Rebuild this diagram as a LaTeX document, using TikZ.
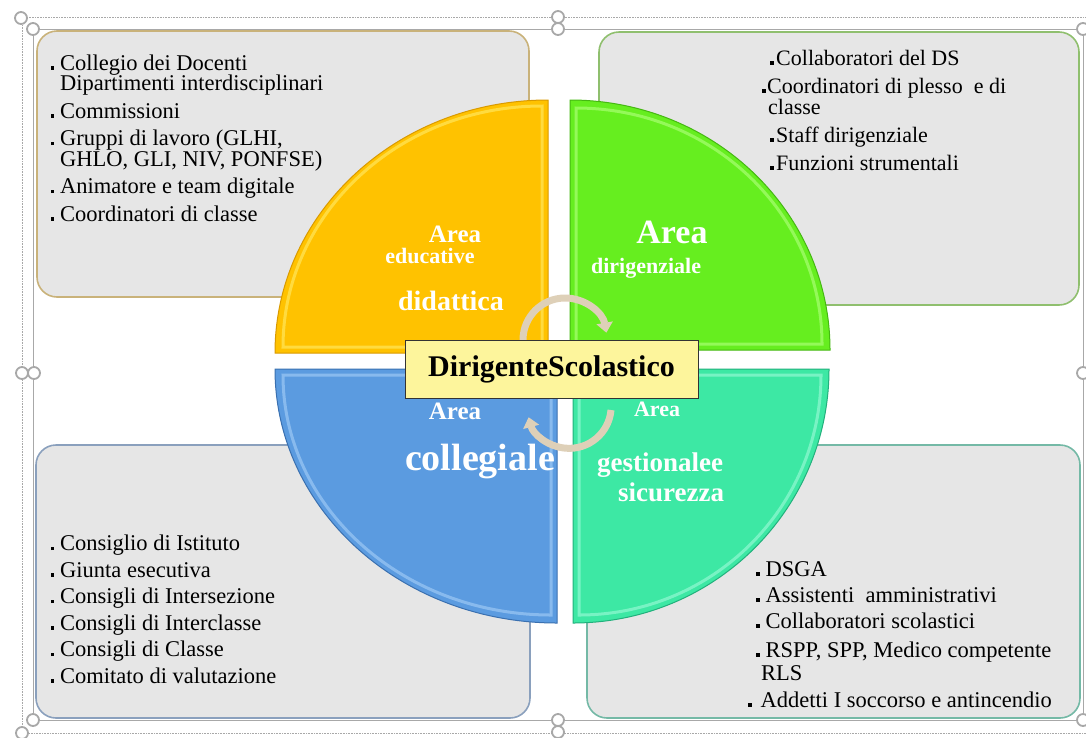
\documentclass[tikz,border=0pt]{standalone}
\usepackage{fontspec}
\setmainfont{Liberation Serif}
\usepackage{xcolor}
\usetikzlibrary{arrows.meta}

\definecolor{boxgray}{HTML}{E6E6E6}
\definecolor{edgegold}{HTML}{C9B27A}
\definecolor{edgegreen}{HTML}{8FBF6E}
\definecolor{edgeblue}{HTML}{8AA0BD}
\definecolor{edgeteal}{HTML}{74B9A6}
\definecolor{areayellow}{HTML}{FFC200}
\definecolor{rimyellow}{HTML}{D99A00}
\definecolor{lightyellow}{HTML}{FFE65A}
\definecolor{areagreen}{HTML}{66EE1F}
\definecolor{rimgreen}{HTML}{45B812}
\definecolor{lightgreen}{HTML}{A8FF72}
\definecolor{areablue}{HTML}{5B9BE0}
\definecolor{rimblue}{HTML}{3A70B0}
\definecolor{lightblue}{HTML}{9CC8F4}
\definecolor{areateal}{HTML}{3DE8A4}
\definecolor{rimteal}{HTML}{22B07C}
\definecolor{lightteal}{HTML}{92F8D2}
\definecolor{dsyellow}{HTML}{FDF59C}
\definecolor{arrowtan}{HTML}{DED0B8}
\definecolor{framegray}{HTML}{A8A8A8}

\newcommand{\bul}[1][6pt]{\rule[0.5pt]{3.5pt}{3.5pt}\hspace{#1}}

\begin{document}
\begin{tikzpicture}[x=1pt,y=-1pt,
    listbox/.style={rounded corners=20pt,fill=boxgray,line width=1.6pt},
    listtext/.style={anchor=base west,align=left,inner sep=0pt},
    arealabel/.style={text=white,inner sep=0pt},
    handle/.style={draw=framegray,line width=1.8pt,fill=white},
    cyclearrow/.style={draw=arrowtan,line width=7pt,-{Triangle[width=16pt,length=10pt]}}]
    \useasboundingbox (0,0) rectangle (1086,737);
    \clip (0,0) rectangle (1086,737);
    % selection frame
    \draw[framegray,densely dotted,line width=0.6pt] (22,17) rectangle (1096,733);
    \draw[framegray,line width=1pt] (33,29) rectangle (1083,720);
    % list boxes
    \draw[listbox,draw=edgegold] (37,31) rectangle (529,297);
    \draw[listbox,draw=edgegreen] (599,32) rectangle (1079,305);
    \draw[listbox,draw=edgeblue] (36,445) rectangle (530,718);
    \draw[listbox,draw=edgeteal] (587,445) rectangle (1080,718);
    % quarter pieces
    \begin{scope}[shift={(548,353)}]
      \fill[areayellow] (0,0) -- (-273,0) arc[start angle=180,end angle=270,x radius=273,y radius=253] -- cycle;
      \draw[lightyellow,line width=3pt,opacity=0.7] (-6,-6) -- (-265,-6) arc[start angle=180,end angle=270,x radius=259,y radius=241] -- cycle;
      \draw[rimyellow,line width=1pt] (0,0) -- (-273,0) arc[start angle=180,end angle=270,x radius=273,y radius=253] -- cycle;
    \end{scope}
    \begin{scope}[shift={(570,350)}]
      \fill[areagreen] (0,0) -- (0,-250) arc[start angle=270,end angle=360,x radius=260,y radius=250] -- cycle;
      \draw[lightgreen,line width=3pt,opacity=0.7] (6,-6) -- (6,-242) arc[start angle=270,end angle=360,x radius=246,y radius=236] -- cycle;
      \draw[rimgreen,line width=1pt] (0,0) -- (0,-250) arc[start angle=270,end angle=360,x radius=260,y radius=250] -- cycle;
    \end{scope}
    \begin{scope}[shift={(573,369)}]
      \fill[areateal] (0,0) -- (256,0) arc[start angle=0,end angle=90,x radius=256,y radius=254] -- cycle;
      \draw[lightteal,line width=3pt,opacity=0.7] (6,6) -- (248,6) arc[start angle=0,end angle=90,x radius=242,y radius=240] -- cycle;
      \draw[rimteal,line width=1pt] (0,0) -- (256,0) arc[start angle=0,end angle=90,x radius=256,y radius=254] -- cycle;
    \end{scope}
    \begin{scope}[shift={(557,369)}]
      \fill[areablue] (0,0) -- (0,254) arc[start angle=90,end angle=180,x radius=282,y radius=254] -- cycle;
      \draw[lightblue,line width=3pt,opacity=0.7] (-6,6) -- (-6,246) arc[start angle=90,end angle=180,x radius=268,y radius=240] -- cycle;
      \draw[rimblue,line width=1pt] (0,0) -- (0,254) arc[start angle=90,end angle=180,x radius=282,y radius=254] -- cycle;
    \end{scope}
    % handles
    \draw[handle] (21,18) circle (6) (33,29) circle (6) (558,17) circle (6) (558,29) circle (6)
      (1083,29) circle (6) (22,373) circle (6) (34,373) circle (6) (1083,373) circle (6)
      (22,733) circle (6) (33,720) circle (6) (558,720) circle (6) (558,732) circle (6) (1083,720) circle (6);
    % cycle arrows
    \draw[cyclearrow] (523,340) arc[start angle=180,end angle=350,radius=42];
    \draw[cyclearrow] (611,410) arc[start angle=5,end angle=165,radius=42];
    % centre
    \node[draw=black!80,fill=dsyellow,line width=1pt,minimum width=293pt,minimum height=58pt,
      font=\fontsize{30}{30}\selectfont\bfseries] (ds) at (551.5,369) {DirigenteScolastico};
    % area labels
    \node[arealabel,font=\fontsize{25}{25}\selectfont\bfseries] (educarea) at (455,234) {Area};
    \node[arealabel,font=\fontsize{22}{22}\selectfont\bfseries] (educ) at (430,256) {educative};
    \node[arealabel,font=\fontsize{28}{28}\selectfont\bfseries] (didat) at (451,301) {didattica};
    \node[arealabel,font=\fontsize{34}{34}\selectfont\bfseries] (dirarea) at (672,232) {Area};
    \node[arealabel,font=\fontsize{22}{22}\selectfont\bfseries] (dir) at (646,268) {dirigenziale};
    \node[arealabel,font=\fontsize{25}{25}\selectfont\bfseries] (collarea) at (455,411) {Area};
    \node[arealabel,font=\fontsize{38}{38}\selectfont\bfseries] (coll) at (480,462) {collegiale};
    \node[arealabel,font=\fontsize{22}{22}\selectfont\bfseries] (gestarea) at (657,409) {Area};
    \node[arealabel,font=\fontsize{27}{27}\selectfont\bfseries] (gest) at (660,465) {gestionalee};
    \node[arealabel,font=\fontsize{27}{27}\selectfont\bfseries] (sicur) at (671,492) {sicurezza};
    % lists (anchored at the baseline of the last line)
    \node[listtext,font=\fontsize{22.5}{20.5}\selectfont] (educlist) at (50.5,221) {\bul Collegio dei Docenti\\
      \hspace*{9.5pt}Dipartimenti interdisciplinari\\[7pt]
      \bul Commissioni\\[7pt]
      \bul Gruppi di lavoro (GLHI,\\
      \hspace*{9.5pt}GHLO, GLI, NIV, PONFSE)\\[7pt]
      \bul Animatore e team digitale\\[7pt]
      \bul Coordinatori di classe};
    \node[listtext,font=\fontsize{22}{21}\selectfont] (dirlist) at (762,170) {\hspace*{8pt}\bul[2.5pt]Collaboratori del DS\\[7pt]
      \bul[1.5pt]Coordinatori di plesso \ e di\\
      \hspace*{6pt}classe\\[7pt]
      \hspace*{8pt}\bul[2.5pt]Staff dirigenziale\\[7pt]
      \hspace*{8pt}\bul[2.5pt]Funzioni strumentali};
    \node[listtext,font=\fontsize{22.5}{26.5}\selectfont] (colllist) at (50.5,683) {\bul Consiglio di Istituto\\
      \bul Giunta esecutiva\\
      \bul Consigli di Intersezione\\
      \bul Consigli di Interclasse\\
      \bul Consigli di Classe\\
      \bul Comitato di valutazione};
    \node[listtext,font=\fontsize{22.5}{23}\selectfont] (gestlist) at (748,707) {\hspace*{8pt}\bul DSGA\\[3pt]
      \hspace*{8pt}\bul Assistenti \ amministrativi\\[3pt]
      \hspace*{8pt}\bul Collaboratori scolastici\\[6pt]
      \hspace*{8pt}\bul RSPP, SPP, Medico competente\\
      \hspace*{13pt}RLS\\[4pt]
      \bul[9pt]Addetti I soccorso e antincendio};
\end{tikzpicture}
\end{document}
